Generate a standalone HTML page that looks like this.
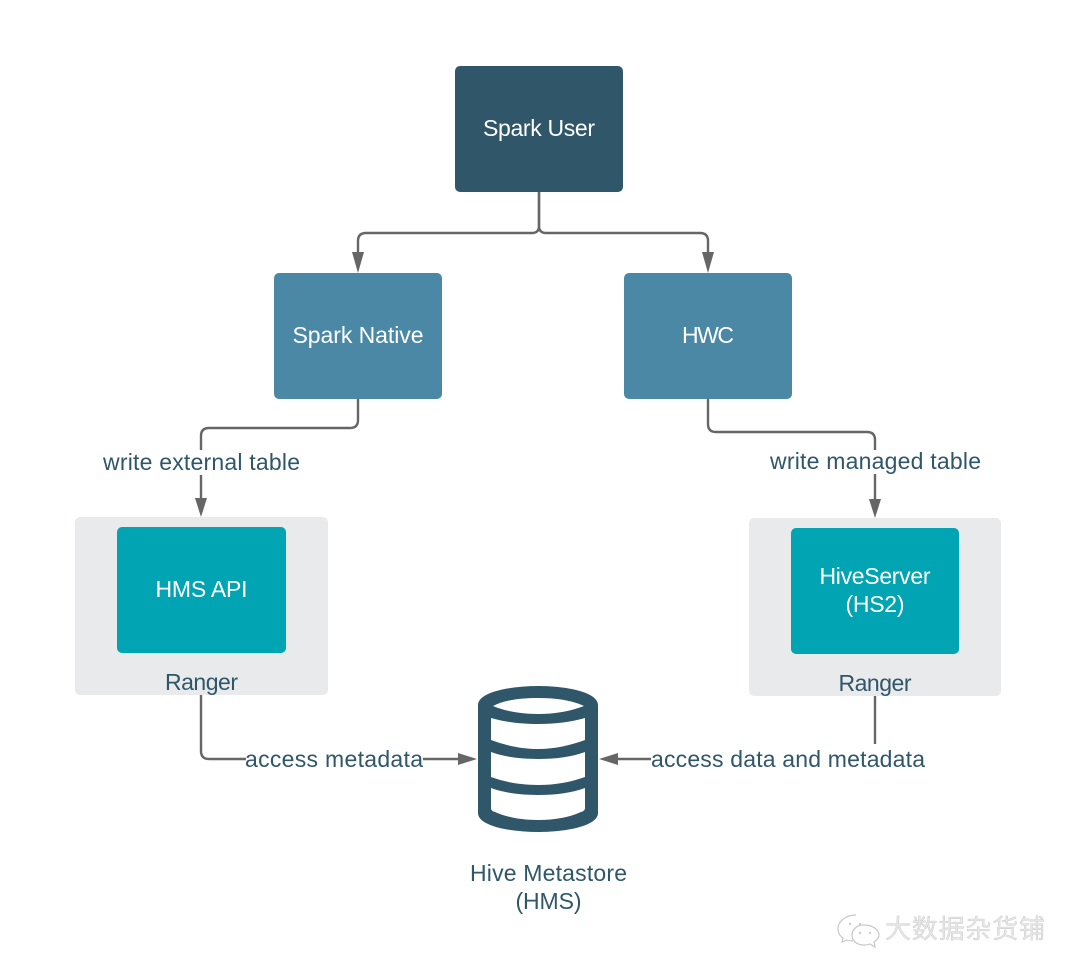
<!DOCTYPE html>
<html><head><meta charset="utf-8"><style>
html,body{margin:0;padding:0;background:#fff}
svg{display:block}
text{font-family:"Liberation Sans",sans-serif;font-size:23px;text-anchor:middle}
.w{fill:#fff}.d{fill:#30566a}
.c{fill:none;stroke:#666;stroke-width:2.4}
.a{fill:#666}
</style></head><body>
<svg width="1080" height="976" viewBox="0 0 1080 976" xmlns="http://www.w3.org/2000/svg">
<rect x="75" y="517" width="253" height="178" rx="5" fill="#e9eaec"/>
<rect x="749" y="518" width="252" height="178" rx="5" fill="#e9eaec"/>
<rect x="455" y="66" width="168" height="126" rx="5" fill="#30566a"/>
<rect x="274" y="273" width="168" height="126" rx="5" fill="#4a88a6"/>
<rect x="624" y="273" width="168" height="126" rx="5" fill="#4a88a6"/>
<rect x="117" y="527" width="169" height="126" rx="5" fill="#00a4b2"/>
<rect x="791" y="528" width="168" height="126" rx="5" fill="#00a4b2"/>

<path class="c" d="M539 192V226Q539 233 532 233H366Q358 233 358 241V254"/>
<path class="c" d="M539 192V226Q539 233 546 233H700Q708 233 708 241V254"/>
<path class="a" d="M352 252H364L358 273Z"/>
<path class="a" d="M702 252H714L708 273Z"/>
<path class="c" d="M358 399V420Q358 428 350 428H209Q201 428 201 436V450"/>
<path class="c" d="M201 475V500"/>
<path class="a" d="M195 498H207L201 517Z"/>
<path class="c" d="M708 399V424Q708 432 716 432H867Q875 432 875 440V450"/>
<path class="c" d="M875 474V501"/>
<path class="a" d="M869 499H881L875 518Z"/>
<path class="c" d="M201 695V751Q201 759 209 759H246"/>
<path class="c" d="M423 759H460"/>
<path class="a" d="M458 753V765L477 759Z"/>
<path class="c" d="M875 696V744"/>
<path class="c" d="M618 759H651"/>
<path class="a" d="M618 753V765L599 759Z"/>

<path fill="#30566a" fill-rule="evenodd" d="M478 705C478 692 510 686 538 686C566 686 598 692 598 705V813C598 826 566 832 538 832C510 832 478 826 478 813Z
M493 706C505 700 520 698 538 698C556 698 571 700 584 706C571 711 556 714 538 714C520 714 505 711 493 706Z
M491 718C505 722 520 724 538 724C556 724 571 722 585 718V740C571 745 556 749 538 749C520 749 505 745 491 740Z
M491 752C505 757 520 759 538 759C556 759 571 757 585 752V777C571 782 556 785 538 785C520 785 505 782 491 777Z
M491 788C505 793 520 795 538 795C556 795 571 793 585 788V808Q585 811 581 812C570 817 556 820 538 820C520 820 506 817 495 812Q491 811 491 808Z"/>

<text class="w" x="539" y="136" textLength="112" lengthAdjust="spacing">Spark User</text>
<text class="w" x="358" y="343" textLength="131" lengthAdjust="spacing">Spark Native</text>
<text class="w" x="708" y="343" textLength="52" lengthAdjust="spacing">HWC</text>
<text class="w" x="201.500" y="597" textLength="92" lengthAdjust="spacing">HMS API</text>
<text class="w" x="875" y="584" textLength="111" lengthAdjust="spacing">HiveServer</text>
<text class="w" x="875" y="612" textLength="59" lengthAdjust="spacing">(HS2)</text>
<text class="d" x="201.500" y="470" textLength="197" lengthAdjust="spacing">write external table</text>
<text class="d" x="875.500" y="469" textLength="211" lengthAdjust="spacing">write managed table</text>
<text class="d" x="201.500" y="690" textLength="73" lengthAdjust="spacing">Ranger</text>
<text class="d" x="875" y="691" textLength="73" lengthAdjust="spacing">Ranger</text>
<text class="d" x="334" y="767" textLength="178" lengthAdjust="spacing">access metadata</text>
<text class="d" x="788" y="767" textLength="274" lengthAdjust="spacing">access data and metadata</text>
<text class="d" x="548.500" y="881" textLength="157" lengthAdjust="spacing">Hive Metastore</text>
<text class="d" x="548.500" y="909" textLength="66" lengthAdjust="spacing">(HMS)</text>

<g fill="#fff" stroke="#c8c8c8" stroke-width="1.2">
<path d="M856 915C846 915 838 921 838 929C838 933 840 936 843 938L842 942L847 940C849 941 851 941 853 941"/>
<path d="M864 925C856 925 852 930 852 935C852 941 857 945 864 945C866 945 868 945 870 944L875 947L874 942C877 940 879 938 879 935C879 930 873 925 864 925Z"/>
</g>
<g fill="#ccc"><circle cx="850" cy="924" r="1.200"/><circle cx="860" cy="924" r="1.200"/><circle cx="860" cy="933" r="1.200"/><circle cx="870" cy="933" r="1.200"/></g>
<text x="965" y="938" textLength="160" lengthAdjust="spacing" style="font-family:'Liberation Sans','Noto Sans CJK SC',sans-serif;font-size:26px;fill:#e6e6e6;stroke:#bbb;stroke-width:.3">大数据杂货铺</text>
</svg>
</body></html>
